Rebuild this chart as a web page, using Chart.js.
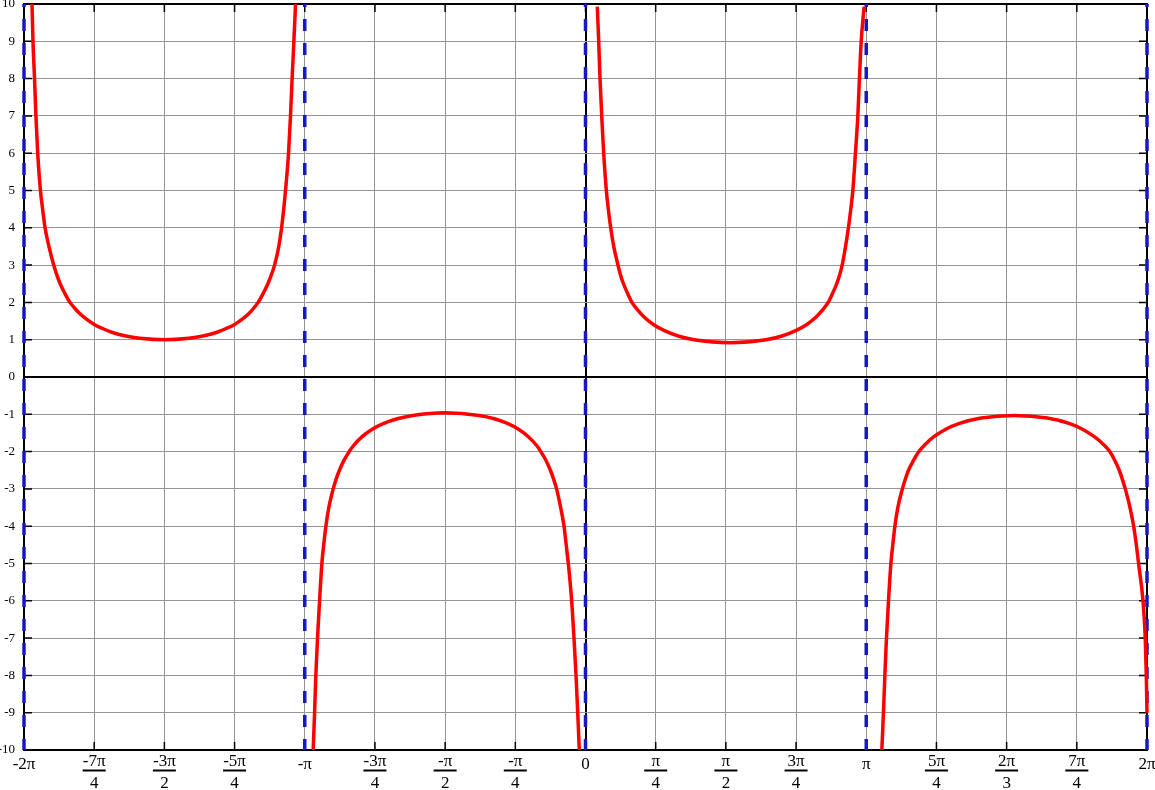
<!DOCTYPE html>
<html>
<head>
<meta charset="utf-8">
<script src="https://cdn.jsdelivr.net/npm/chart.js@4.4.0/dist/chart.umd.min.js"></script>
<style>
  html, body { margin: 0; padding: 0; background: #fff; }
  #wrap { width: 1155px; height: 790px; }
</style>
</head>
<body>
<div id="wrap"><canvas id="cscChart"></canvas></div>
<script>
// x values are in units of pi/4 (-8 = -2pi, 8 = 2pi)
const xTicks = [-8, -7, -6, -5, -4, -3, -2, -1, 0, 1, 2, 3, 4, 5, 6, 7, 8];
const tickTop = ['-2π', '-7π', '-3π', '-5π', '-π', '-3π', '-π', '-π', '0', 'π', 'π', '3π', 'π', '5π', '2π', '7π', '2π'];
const tickBottom = ['', '4', '2', '4', '', '4', '2', '4', '', '4', '2', '4', '', '4', '3', '4', ''];

// asymptotes (dashed blue)
const asymptoteX = [-8, -4, 0, 4, 8];

// branch -2pi .. -pi
const branch1X = [-7.886, -7.872, -7.85, -7.83, -7.805, -7.766, -7.735, -7.70, -7.645, -7.577, -7.535, -7.485, -7.42, -7.345, -7.28, -7.206, -7.11, -7, -6.88, -6.75, -6.55, -6.35, -6, -5.65, -5.45, -5.25, -5.12, -5, -4.89, -4.795, -4.725, -4.664, -4.59, -4.525, -4.474, -4.43, -4.37, -4.33, -4.30, -4.274, -4.231, -4.203, -4.18, -4.155, -4.131];
const branch1Y = [10, 9, 8, 7, 6, 5, 4.5, 4, 3.5, 3, 2.75, 2.5, 2.25, 2, 1.85, 1.7, 1.55, 1.41, 1.3, 1.2, 1.1, 1.04, 1.0, 1.04, 1.1, 1.2, 1.3, 1.41, 1.55, 1.7, 1.85, 2, 2.25, 2.5, 2.75, 3, 3.5, 4, 4.5, 5, 6, 7, 8, 9, 10];

// branch -pi .. 0
const branch2X = [-3.88, -3.86, -3.842, -3.818, -3.789, -3.756, -3.73, -3.699, -3.657, -3.595, -3.555, -3.506, -3.445, -3.367, -3.31, -3.183, -3.038, -2.882, -2.682, -2.46, -2, -1.514, -1.299, -1.105, -0.954, -0.814, -0.69, -0.637, -0.559, -0.50, -0.453, -0.412, -0.354, -0.306, -0.275, -0.245, -0.197, -0.164, -0.135, -0.111, -0.088];
const branch2Y = [-10, -9, -8, -7, -6, -5, -4.5, -4, -3.5, -3, -2.75, -2.5, -2.25, -2, -1.85, -1.6, -1.4, -1.25, -1.12, -1.03, -0.96, -1.03, -1.12, -1.25, -1.4, -1.6, -1.85, -2, -2.25, -2.5, -2.75, -3, -3.5, -4, -4.5, -5, -6, -7, -8, -9, -10];

// branch 0 .. pi
const branch3X = [0.168, 0.188, 0.207, 0.231, 0.259, 0.297, 0.325, 0.359, 0.402, 0.463, 0.497, 0.541, 0.598, 0.662, 0.742, 0.839, 0.972, 1.117, 1.321, 1.547, 2.06, 2.573, 2.799, 3.003, 3.148, 3.281, 3.378, 3.458, 3.522, 3.579, 3.623, 3.657, 3.705, 3.746, 3.78, 3.809, 3.846, 3.88, 3.903, 3.928, 3.97];
const branch3Y = [9.93, 9, 8, 7, 6, 5, 4.5, 4, 3.5, 3, 2.75, 2.5, 2.25, 2, 1.8, 1.6, 1.4, 1.25, 1.1, 1.0, 0.92, 1.0, 1.1, 1.25, 1.4, 1.6, 1.8, 2, 2.25, 2.5, 2.75, 3, 3.5, 4, 4.5, 5, 6, 7, 8, 9, 9.93];

// branch pi .. 2pi
const branch4X = [4.222, 4.245, 4.265, 4.288, 4.317, 4.351, 4.378, 4.408, 4.45, 4.515, 4.555, 4.602, 4.669, 4.75, 4.844, 4.964, 5.133, 5.318, 5.638, 6.11, 6.58, 6.9, 7.08, 7.25, 7.375, 7.47, 7.545, 7.605, 7.65, 7.691, 7.758, 7.81, 7.848, 7.88, 7.943, 7.975, 7.99, 8.0, 8.012];
const branch4Y = [-10, -9, -8, -7, -6, -5, -4.5, -4, -3.5, -3, -2.75, -2.5, -2.25, -2, -1.8, -1.6, -1.4, -1.25, -1.1, -1.03, -1.1, -1.25, -1.4, -1.6, -1.8, -2, -2.25, -2.5, -2.75, -3, -3.5, -4, -4.5, -5, -6, -7, -8, -9, -10];

const toPoints = (xs, ys) => xs.map((x, i) => ({ x: x, y: ys[i] }));

const curveStyle = {
  borderColor: '#ff0000',
  borderWidth: 3.5,
  pointRadius: 0,
  cubicInterpolationMode: 'monotone',
  fill: false,
  order: 0,
};

const datasets = [
  { ...curveStyle, data: toPoints(branch1X, branch1Y) },
  { ...curveStyle, data: toPoints(branch2X, branch2Y) },
  { ...curveStyle, data: toPoints(branch3X, branch3Y) },
  { ...curveStyle, data: toPoints(branch4X, branch4Y), clip: { left: 0, top: 0, right: 4, bottom: 2 } },
];

asymptoteX.forEach((a) => {
  datasets.push({
    data: [{ x: a, y: 10 }, { x: a, y: -10 }],
    borderColor: '#1717c4',
    borderWidth: 3.5,
    borderDash: [12, 12],
    borderDashOffset: 9,
    pointRadius: 0,
    tension: 0,
    clip: false,
    order: 1,
  });
});

// frame, inner tick marks and fraction labels
const framePlugin = {
  id: 'framePlugin',
  beforeDatasetsDraw(chart) {
    const { ctx, chartArea: a, scales } = chart;
    ctx.save();
    ctx.strokeStyle = '#000';
    ctx.lineWidth = 1.5;
    ctx.beginPath();
    xTicks.forEach((v) => {
      const px = scales.x.getPixelForValue(v);
      ctx.moveTo(px, a.bottom);
      ctx.lineTo(px, a.bottom - 8);
      ctx.moveTo(px, a.top);
      ctx.lineTo(px, a.top + 8);
    });
    scales.y.ticks.forEach((t) => {
      const py = scales.y.getPixelForValue(t.value);
      ctx.moveTo(a.left, py);
      ctx.lineTo(a.left + 8, py);
      ctx.moveTo(a.right, py);
      ctx.lineTo(a.right - 8, py);
    });
    ctx.stroke();
    ctx.lineWidth = 2;
    ctx.strokeRect(a.left, a.top, a.right - a.left, a.bottom - a.top);
    ctx.restore();
  },
  afterDraw(chart) {
    const { ctx, chartArea: a, scales } = chart;
    ctx.save();
    ctx.fillStyle = '#000';
    ctx.font = '17px "Liberation Serif", "Times New Roman", serif';
    ctx.textAlign = 'center';
    ctx.textBaseline = 'alphabetic';
    xTicks.forEach((v, i) => {
      const px = scales.x.getPixelForValue(v);
      if (tickBottom[i]) {
        ctx.fillText(tickTop[i], px, a.bottom + 16);
        ctx.fillRect(px - 11.5, a.bottom + 19.5, 23, 2);
        ctx.fillText(tickBottom[i], px, a.bottom + 38);
      } else {
        ctx.fillText(tickTop[i], px, a.bottom + 19);
      }
    });
    ctx.restore();
  },
};

const gridColor = (c) => (c.tick && c.tick.value === 0 ? '#000' : '#959595');
const gridWidth = (c) => (c.tick && c.tick.value === 0 ? 2 : 1);

new Chart(document.getElementById('cscChart'), {
  type: 'line',
  data: { datasets: datasets },
  options: {
    responsive: true,
    maintainAspectRatio: false,
    animation: false,
    layout: { padding: { left: 0, top: 4, right: 8, bottom: 40 } },
    plugins: {
      legend: { display: false },
      tooltip: { enabled: false },
    },
    scales: {
      x: {
        type: 'linear',
        min: -8,
        max: 8,
        ticks: { stepSize: 1, display: false },
        grid: { color: gridColor, lineWidth: gridWidth, drawTicks: false },
        border: { color: '#000', width: 2 },
      },
      y: {
        min: -10,
        max: 10,
        ticks: {
          stepSize: 1,
          padding: 9,
          color: '#000',
          font: { family: '"Liberation Serif", "Times New Roman", serif', size: 13 },
        },
        grid: { color: gridColor, lineWidth: gridWidth, drawTicks: false },
        border: { color: '#000', width: 2 },
        afterFit(scale) {
          scale.width = 24;
          scale.paddingTop = 0;
          scale.paddingBottom = 0;
        },
      },
    },
  },
  plugins: [framePlugin],
});
</script>
</body>
</html>
